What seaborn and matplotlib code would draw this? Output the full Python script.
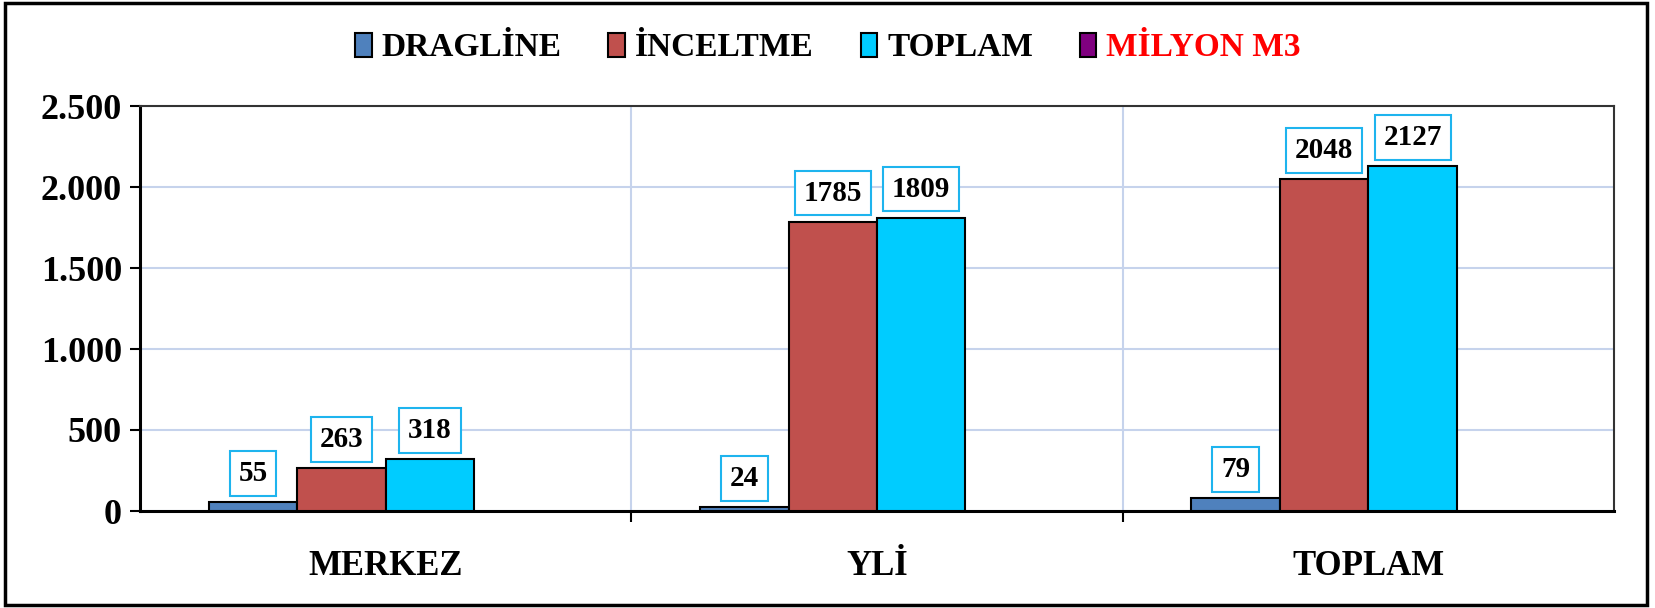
import matplotlib
matplotlib.use("Agg")
import matplotlib.pyplot as plt
import seaborn as sns
import pandas as pd
import numpy as np
from matplotlib.patches import Patch, Rectangle
from matplotlib.ticker import FixedLocator

categories = ["MERKEZ", "YLİ", "TOPLAM"]
series_names = ["DRAGLİNE", "İNCELTME", "TOPLAM", "MİLYON M3"]
dragline = [55, 24, 79]
inceltme = [263, 1785, 2048]
toplam = [318, 1809, 2127]
milyon_m3 = [np.nan, np.nan, np.nan]
y_ticks = [0, 500, 1000, 1500, 2000, 2500]
y_tick_labels = ["0", "500", "1.000", "1.500", "2.000", "2.500"]
colors = ["#4F81BD", "#C0504D", "#00CCFF", "#800080"]

rows = []
for name, vals in zip(series_names, [dragline, inceltme, toplam, milyon_m3]):
    for c, v in zip(categories, vals):
        rows.append({"cat": c, "series": name, "value": v})
df = pd.DataFrame(rows)

sns.set_style("white")
plt.rcParams["font.family"] = ["Liberation Serif", "DejaVu Serif"]
plt.rcParams["font.weight"] = "bold"
plt.rcParams["text.color"] = "black"
plt.rcParams["xtick.color"] = "black"
plt.rcParams["ytick.color"] = "black"

W, H = 1656, 608
fig = plt.figure(figsize=(W / 100, H / 100), dpi=100)
ax = fig.add_axes([140 / W, 1 - 511 / H, (1614 - 140) / W, (511 - 106) / H])

sns.barplot(data=df, x="cat", y="value", hue="series", hue_order=series_names,
            order=categories, palette=colors, width=0.72, dodge=True,
            edgecolor="black", linewidth=1.5, saturation=1, errorbar=None,
            legend=False, ax=ax, zorder=3)

ax.set_xlim(-0.5, 2.5)
ax.set_ylim(0, 2500)
ax.set_yticks(y_ticks)
ax.set_yticklabels(y_tick_labels)
ax.set_xlabel("")
ax.set_ylabel("")

grid_c = "#C6D3EC"
ax.xaxis.set_minor_locator(FixedLocator([0.5, 1.5]))
ax.grid(axis="y", which="major", color=grid_c, lw=1.5, zorder=0)
ax.grid(axis="x", which="minor", color=grid_c, lw=1.5, zorder=0)
ax.grid(axis="x", which="major", visible=False)
ax.set_axisbelow(True)

ax.tick_params(axis="y", which="major", direction="out", length=7, width=1.5,
               pad=6, labelsize=26, left=True, color="black", labelcolor="black")
ax.tick_params(axis="x", which="major", length=0, pad=28, labelsize=25,
               labelcolor="black")
ax.tick_params(axis="x", which="minor", direction="out", length=8, width=1.5,
               bottom=True, color="black")
for lab in ax.get_xticklabels() + ax.get_yticklabels():
    lab.set_fontweight("bold")

for side in ["left", "bottom"]:
    ax.spines[side].set_color("black")
    ax.spines[side].set_linewidth(2.2)
for side in ["top", "right"]:
    ax.spines[side].set_color("#333333")
    ax.spines[side].set_linewidth(1.5)
    ax.spines[side].set_visible(True)

# label bars: match each drawn bar to its value through the data positions
value_lists = [dragline, inceltme, toplam, milyon_m3]
drawn = [v for v in value_lists if not all(np.isnan(x) for x in np.asarray(v, float))]
for cont, vals in zip(ax.containers, drawn):
    for bar, v in zip(cont, vals):
        if bar is None or np.isnan(float(v)):
            continue
        x = bar.get_x() + bar.get_width() / 2
        ax.annotate(f"{int(v)}", xy=(x, bar.get_height()), xytext=(0, 11),
                    textcoords="offset points", ha="center", va="bottom",
                    fontsize=21, fontweight="bold", color="black", zorder=5,
                    bbox=dict(boxstyle="square,pad=0.3", fc="white",
                              ec="#1EB4EE", lw=1.5))

handles = [Patch(facecolor=c, edgecolor="black", linewidth=1.5) for c in colors]
leg = fig.legend(handles, series_names, loc="center", bbox_to_anchor=(0.5, 1 - 48 / H),
                 ncol=4, frameon=False, prop={"size": 24, "weight": "bold"},
                 handlelength=0.5, handleheight=0.75, handletextpad=0.3,
                 columnspacing=1.4)
for t in leg.get_texts():
    t.set_color("black")
leg.get_texts()[3].set_color("red")

fig.patches.append(Rectangle((5 / W, 3 / H), (1647 - 5) / W, (605 - 3) / H,
                             transform=fig.transFigure, fill=False, lw=2.5,
                             ec="black"))

fig.savefig("out.png", dpi=100)
